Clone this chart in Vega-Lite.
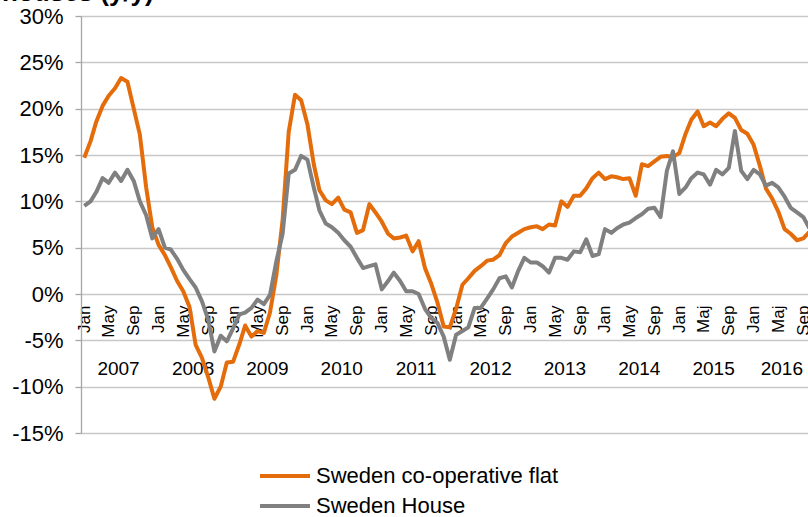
{
  "$schema": "https://vega.github.io/schema/vega-lite/v6.json",
  "width": 727,
  "height": 417,
  "autosize": {"type": "none"},
  "padding": {"left": 81, "top": 16, "right": 0, "bottom": 84},
  "background": "white",
  "title": {"text": "houses (y/y)", "anchor": "start", "frame": "group", "orient": "top", "dx": -79, "offset": -1, "fontSize": 26, "fontWeight": "bold", "font": "Liberation Sans", "color": "#000000"},
  "config": {"view": {"stroke": null}, "font": "Liberation Sans"},
  "data": {"values": [
    {"date": "2007-01-01", "flat": 14.7, "house": 9.5},
    {"date": "2007-02-01", "flat": 16.5, "house": 10.0},
    {"date": "2007-03-01", "flat": 18.6, "house": 11.0},
    {"date": "2007-04-01", "flat": 20.3, "house": 12.5},
    {"date": "2007-05-01", "flat": 21.4, "house": 12.0},
    {"date": "2007-06-01", "flat": 22.2, "house": 13.1},
    {"date": "2007-07-01", "flat": 23.3, "house": 12.2},
    {"date": "2007-08-01", "flat": 22.9, "house": 13.4},
    {"date": "2007-09-01", "flat": 20.0, "house": 12.2},
    {"date": "2007-10-01", "flat": 17.2, "house": 10.0},
    {"date": "2007-11-01", "flat": 11.5, "house": 8.5},
    {"date": "2007-12-01", "flat": 7.2, "house": 6.0},
    {"date": "2008-01-01", "flat": 5.3, "house": 7.0},
    {"date": "2008-02-01", "flat": 4.2, "house": 5.0},
    {"date": "2008-03-01", "flat": 2.9, "house": 4.8},
    {"date": "2008-04-01", "flat": 1.4, "house": 3.8},
    {"date": "2008-05-01", "flat": 0.3, "house": 2.6},
    {"date": "2008-06-01", "flat": -1.4, "house": 1.6},
    {"date": "2008-07-01", "flat": -5.5, "house": 0.7},
    {"date": "2008-08-01", "flat": -6.9, "house": -0.8},
    {"date": "2008-09-01", "flat": -9.0, "house": -2.8},
    {"date": "2008-10-01", "flat": -11.3, "house": -6.2},
    {"date": "2008-11-01", "flat": -10.0, "house": -4.5},
    {"date": "2008-12-01", "flat": -7.4, "house": -5.1},
    {"date": "2009-01-01", "flat": -7.3, "house": -3.7},
    {"date": "2009-02-01", "flat": -5.4, "house": -2.2},
    {"date": "2009-03-01", "flat": -3.4, "house": -2.0},
    {"date": "2009-04-01", "flat": -4.6, "house": -1.5},
    {"date": "2009-05-01", "flat": -4.0, "house": -0.6},
    {"date": "2009-06-01", "flat": -4.2, "house": -1.1},
    {"date": "2009-07-01", "flat": -2.0, "house": -0.1},
    {"date": "2009-08-01", "flat": 2.0, "house": 3.5},
    {"date": "2009-09-01", "flat": 8.0, "house": 6.5},
    {"date": "2009-10-01", "flat": 17.5, "house": 13.0},
    {"date": "2009-11-01", "flat": 21.5, "house": 13.4},
    {"date": "2009-12-01", "flat": 20.9, "house": 14.9},
    {"date": "2010-01-01", "flat": 18.3, "house": 14.5},
    {"date": "2010-02-01", "flat": 14.0, "house": 11.5},
    {"date": "2010-03-01", "flat": 11.2, "house": 9.0},
    {"date": "2010-04-01", "flat": 10.1, "house": 7.6},
    {"date": "2010-05-01", "flat": 9.7, "house": 7.2},
    {"date": "2010-06-01", "flat": 10.4, "house": 6.6},
    {"date": "2010-07-01", "flat": 9.1, "house": 5.8},
    {"date": "2010-08-01", "flat": 8.8, "house": 5.1},
    {"date": "2010-09-01", "flat": 6.6, "house": 3.9},
    {"date": "2010-10-01", "flat": 6.9, "house": 2.8},
    {"date": "2010-11-01", "flat": 9.7, "house": 3.0},
    {"date": "2010-12-01", "flat": 8.8, "house": 3.2},
    {"date": "2011-01-01", "flat": 7.8, "house": 0.5},
    {"date": "2011-02-01", "flat": 6.5, "house": 1.4},
    {"date": "2011-03-01", "flat": 6.0, "house": 2.3},
    {"date": "2011-04-01", "flat": 6.1, "house": 1.4},
    {"date": "2011-05-01", "flat": 6.3, "house": 0.3},
    {"date": "2011-06-01", "flat": 4.6, "house": 0.3},
    {"date": "2011-07-01", "flat": 5.7, "house": 0.0},
    {"date": "2011-08-01", "flat": 2.8, "house": -1.6},
    {"date": "2011-09-01", "flat": 1.1, "house": -2.6},
    {"date": "2011-10-01", "flat": -0.9, "house": -3.1},
    {"date": "2011-11-01", "flat": -3.5, "house": -4.6},
    {"date": "2011-12-01", "flat": -3.6, "house": -7.1},
    {"date": "2012-01-01", "flat": -1.6, "house": -4.4},
    {"date": "2012-02-01", "flat": 1.0, "house": -4.0},
    {"date": "2012-03-01", "flat": 1.7, "house": -3.6},
    {"date": "2012-04-01", "flat": 2.5, "house": -1.5},
    {"date": "2012-05-01", "flat": 3.0, "house": -1.5},
    {"date": "2012-06-01", "flat": 3.6, "house": -0.5},
    {"date": "2012-07-01", "flat": 3.7, "house": 0.5},
    {"date": "2012-08-01", "flat": 4.2, "house": 1.7},
    {"date": "2012-09-01", "flat": 5.5, "house": 1.9},
    {"date": "2012-10-01", "flat": 6.2, "house": 0.7},
    {"date": "2012-11-01", "flat": 6.6, "house": 2.5},
    {"date": "2012-12-01", "flat": 7.0, "house": 3.9},
    {"date": "2013-01-01", "flat": 7.2, "house": 3.4},
    {"date": "2013-02-01", "flat": 7.3, "house": 3.4},
    {"date": "2013-03-01", "flat": 7.0, "house": 3.0},
    {"date": "2013-04-01", "flat": 7.5, "house": 2.3},
    {"date": "2013-05-01", "flat": 7.4, "house": 3.9},
    {"date": "2013-06-01", "flat": 10.0, "house": 3.9},
    {"date": "2013-07-01", "flat": 9.4, "house": 3.7},
    {"date": "2013-08-01", "flat": 10.6, "house": 4.6},
    {"date": "2013-09-01", "flat": 10.6, "house": 4.5},
    {"date": "2013-10-01", "flat": 11.4, "house": 5.9},
    {"date": "2013-11-01", "flat": 12.5, "house": 4.1},
    {"date": "2013-12-01", "flat": 13.1, "house": 4.3},
    {"date": "2014-01-01", "flat": 12.4, "house": 7.0},
    {"date": "2014-02-01", "flat": 12.7, "house": 6.6},
    {"date": "2014-03-01", "flat": 12.6, "house": 7.1},
    {"date": "2014-04-01", "flat": 12.4, "house": 7.5},
    {"date": "2014-05-01", "flat": 12.5, "house": 7.7},
    {"date": "2014-06-01", "flat": 10.6, "house": 8.2},
    {"date": "2014-07-01", "flat": 14.0, "house": 8.6},
    {"date": "2014-08-01", "flat": 13.8, "house": 9.2},
    {"date": "2014-09-01", "flat": 14.3, "house": 9.3},
    {"date": "2014-10-01", "flat": 14.8, "house": 8.3},
    {"date": "2014-11-01", "flat": 14.9, "house": 13.3},
    {"date": "2014-12-01", "flat": 14.8, "house": 15.4},
    {"date": "2015-01-01", "flat": 15.2, "house": 10.8},
    {"date": "2015-02-01", "flat": 17.3, "house": 11.5},
    {"date": "2015-03-01", "flat": 18.8, "house": 12.5},
    {"date": "2015-04-01", "flat": 19.7, "house": 13.1},
    {"date": "2015-05-01", "flat": 18.1, "house": 12.9},
    {"date": "2015-06-01", "flat": 18.5, "house": 11.8},
    {"date": "2015-07-01", "flat": 18.1, "house": 13.4},
    {"date": "2015-08-01", "flat": 18.9, "house": 12.9},
    {"date": "2015-09-01", "flat": 19.5, "house": 13.6},
    {"date": "2015-10-01", "flat": 19.0, "house": 17.6},
    {"date": "2015-11-01", "flat": 17.7, "house": 13.3},
    {"date": "2015-12-01", "flat": 17.3, "house": 12.4},
    {"date": "2016-01-01", "flat": 16.1, "house": 13.4},
    {"date": "2016-02-01", "flat": 13.8, "house": 12.9},
    {"date": "2016-03-01", "flat": 11.4, "house": 11.7},
    {"date": "2016-04-01", "flat": 10.3, "house": 12.0},
    {"date": "2016-05-01", "flat": 8.9, "house": 11.5},
    {"date": "2016-06-01", "flat": 7.0, "house": 10.5},
    {"date": "2016-07-01", "flat": 6.5, "house": 9.3},
    {"date": "2016-08-01", "flat": 5.8, "house": 8.8},
    {"date": "2016-09-01", "flat": 6.0, "house": 8.3},
    {"date": "2016-10-01", "flat": 6.7, "house": 7.1}
  ]},
  "layer": [
    {
      "mark": {"type": "line", "strokeWidth": 4, "clip": true, "strokeJoin": "round"},
      "encoding": {
        "x": {
          "field": "date", "type": "temporal",
          "scale": {"type": "utc", "domain": [{"year": 2006, "month": 12, "date": 16, "utc": true}, {"year": 2016, "month": 9, "date": 24, "utc": true}]},
          "axis": {
            "orient": "bottom", "offset": -65, "title": null,
            "values": [
              {"year": 2007, "month": 6, "date": 16, "utc": true},
              {"year": 2008, "month": 6, "date": 16, "utc": true},
              {"year": 2009, "month": 6, "date": 16, "utc": true},
              {"year": 2010, "month": 6, "date": 16, "utc": true},
              {"year": 2011, "month": 6, "date": 16, "utc": true},
              {"year": 2012, "month": 6, "date": 16, "utc": true},
              {"year": 2013, "month": 6, "date": 16, "utc": true},
              {"year": 2014, "month": 6, "date": 16, "utc": true},
              {"year": 2015, "month": 6, "date": 16, "utc": true},
              {"year": 2016, "month": 5, "date": 16, "utc": true}
            ],
            "labelExpr": "utcFormat(datum.value, '%Y')",
            "domain": false, "ticks": false, "tickSize": 0, "grid": false,
            "labelPadding": 0, "labelBaseline": "middle", "labelAngle": 0, "labelAlign": "center",
            "labelFontSize": 19, "labelColor": "#000000", "labelFlush": false, "labelOverlap": false
          }
        },
        "y": {
          "field": "flat", "type": "quantitative",
          "scale": {"domain": [-15, 30], "nice": false, "zero": false},
          "axis": {
            "title": null, "values": [-15, -10, -5, 0, 5, 10, 15, 20, 25, 30],
            "labelExpr": "datum.value + '%'",
            "grid": true, "gridColor": "#C8C8C8", "gridWidth": 1.3,
            "domainColor": "#A6A6A6", "domainWidth": 1.3,
            "tickColor": "#A6A6A6", "tickSize": 6, "tickWidth": 1.3,
            "labelPadding": 12, "labelFontSize": 22, "labelColor": "#000000", "labelFlush": false
          }
        },
        "color": {
          "datum": "Sweden co-operative flat",
          "scale": {"domain": ["Sweden co-operative flat", "Sweden House"], "range": ["#E46C0A", "#808080"]},
          "legend": {
            "orient": "none", "legendX": 185, "legendY": 441, "title": null,
            "symbolType": "M-1.47,0H1.47", "symbolSize": 1156, "symbolStrokeWidth": 4,
            "labelFontSize": 22, "labelColor": "#000000", "labelOffset": 12, "labelLimit": 0, "rowPadding": 0,
            "direction": "vertical"
          }
        }
      }
    },
    {
      "mark": {"type": "line", "strokeWidth": 4, "clip": true, "strokeJoin": "round"},
      "encoding": {
        "x": {
          "field": "date", "type": "temporal",
          "scale": {"type": "utc", "domain": [{"year": 2006, "month": 12, "date": 16, "utc": true}, {"year": 2016, "month": 9, "date": 24, "utc": true}]},
          "axis": {
            "orient": "bottom", "offset": -140, "title": null,
            "tickCount": {"interval": "month", "step": 4},
            "labelExpr": "utcmonth(datum.value) == 4 && utcyear(datum.value) >= 2015 ? 'Maj' : utcFormat(datum.value, '%b')",
            "domain": false, "ticks": false, "tickSize": 0, "grid": false,
            "labelAngle": 270, "labelAlign": "right", "labelBaseline": "middle", "labelPadding": 12,
            "labelFontSize": 17, "labelColor": "#000000", "labelFlush": false, "labelOverlap": false
          }
        },
        "y": {"field": "house", "type": "quantitative", "scale": {"domain": [-15, 30], "nice": false, "zero": false}},
        "color": {"datum": "Sweden House"}
      }
    }
  ],
  "resolve": {"axis": {"x": "independent"}}
}
